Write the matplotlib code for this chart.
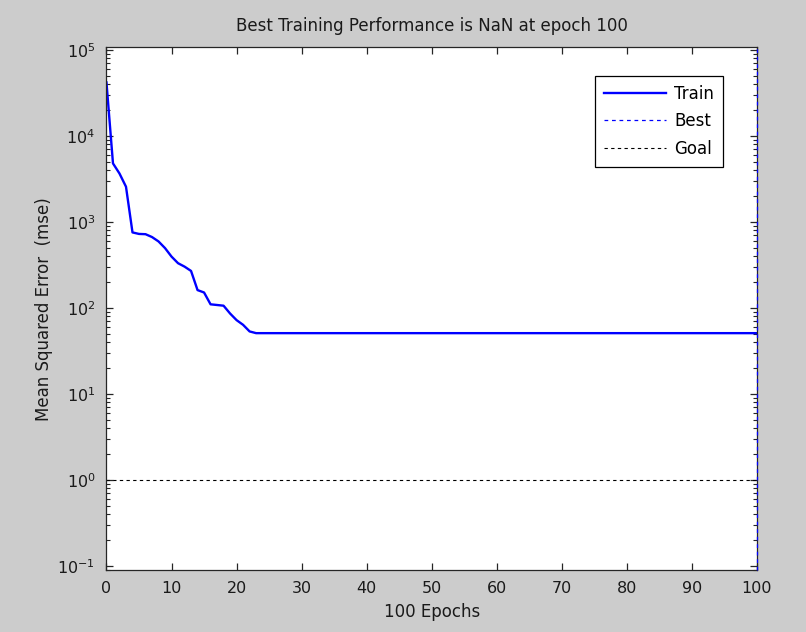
import numpy as np
import matplotlib
matplotlib.use("Agg")
import matplotlib.pyplot as plt

plt.rcParams['font.family'] = ['DejaVu Sans']
plt.rcParams['axes.unicode_minus'] = False
plt.rcParams['mathtext.default'] = 'regular'

# training performance (mse per epoch)
epochs = [0, 1, 2, 3, 4, 5, 6, 7, 8, 9, 10, 11, 12, 13, 14, 15, 16, 17, 18,
          19, 20, 21, 22, 23, 100]
train_mse = [42000, 4800, 3660, 2570, 755, 725, 720, 667, 593, 496, 395, 331,
             302, 269, 161, 151, 110, 108, 106, 86, 72, 63.5, 53.2, 50.8, 50.8]
best_epoch = 100
goal = 1.0

title = "Best Training Performance is NaN at epoch 100"
xlabel = "100 Epochs"
ylabel = "Mean Squared Error  (mse)"
xticks = list(range(0, 101, 10))

fig = plt.figure(figsize=(8.06, 6.32), dpi=100)
fig.patch.set_facecolor('#cccccc')
ax = fig.add_axes([0.1321, 0.0981, 0.8071, 0.8268])
ax.set_facecolor('white')

ax.semilogy(epochs, train_mse, color='#0000ff', lw=1.7, label='Train')
# best epoch marker sits on the right border, draw it above the spine
ax.axvline(best_epoch, color='#0000ff', lw=0.9, ls=(0, (3, 3)), label='Best',
           zorder=3, clip_on=False)
ax.axhline(goal, color='#000000', lw=0.8, ls=(0, (3, 3)), label='Goal')

ax.set_xlim(0, 100)
ax.set_ylim(10 ** -1.05, 10 ** 5.03)
ax.set_xticks(xticks)
ax.set_yticks([10.0 ** k for k in range(-1, 6)])

for s in ax.spines.values():
    s.set_color('#262626')
    s.set_linewidth(0.9)
ax.tick_params(which='both', direction='in', top=True, right=True,
               colors='#262626', labelcolor='#1a1a1a', labelsize=11.5)
ax.tick_params(which='major', length=5, width=0.9)
ax.tick_params(which='minor', length=3, width=0.8)
ax.tick_params(axis='x', which='minor', bottom=False, top=False)
ax.tick_params(axis='x', pad=8)
ax.tick_params(axis='y', pad=8)

ax.set_title(title, fontsize=12, color='#1a1a1a', pad=12)
ax.set_xlabel(xlabel, fontsize=12, color='#1a1a1a', labelpad=5)
ax.set_ylabel(ylabel, fontsize=12, color='#1a1a1a', labelpad=3)

leg = ax.legend(loc='upper right', bbox_to_anchor=(0.948, 0.946),
                fontsize=12, handlelength=3.7, labelspacing=0.56,
                fancybox=False, framealpha=1, edgecolor='#000000',
                borderpad=0.55, handletextpad=0.5, borderaxespad=0)
leg.get_frame().set_linewidth(0.9)

fig.savefig("out.png", dpi=100, facecolor=fig.get_facecolor())
